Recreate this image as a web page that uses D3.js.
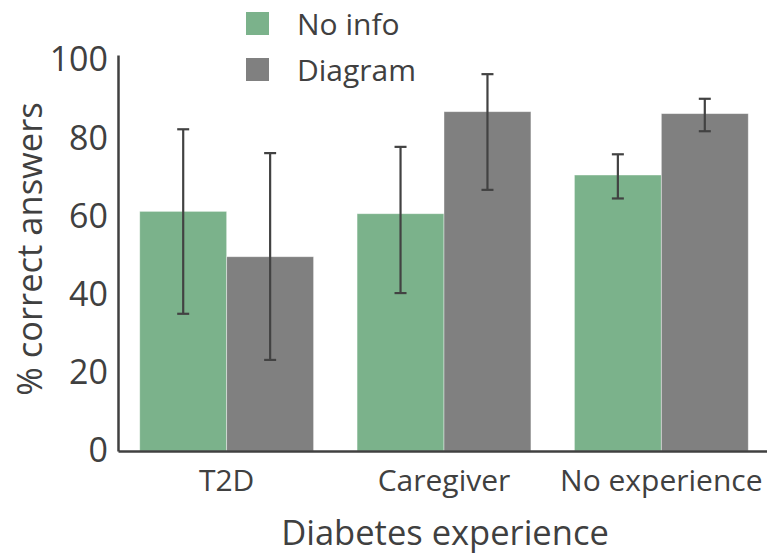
<!DOCTYPE html>
<html lang="en">
<head>
    <meta charset="UTF-8">
    <title>Diabetes experience</title>
    <script src="https://cdn.jsdelivr.net/npm/d3@7"></script>
    <style>
        body { margin: 0; background: #fff; }
        text { font-family: "Open Sans", sans-serif; fill: #404040; }
    </style>
</head>
<body>
<script>
	// data
	var categories = ["T2D", "Caregiver", "No experience"];
	var seriesNames = ["No info", "Diagram"];
	var noInfo = [61.3, 60.7, 70.6];
	var diagram = [49.7, 86.8, 86.3];
	var noInfoLow = [35.1, 40.4, 64.6];
	var noInfoHigh = [82.3, 77.8, 75.9];
	var diagramLow = [23.3, 66.8, 81.8];
	var diagramHigh = [76.2, 96.4, 90.1];
	var yTicks = [0, 20, 40, 60, 80, 100];
	var colors = ["#7bb28b", "#808080"];

	var width = 767, height = 555;
	var svg = d3.select("body").append("svg").attr("width", width).attr("height", height);

	var x = d3.scaleBand().domain(categories).range([118, 770]).paddingInner(0.2).paddingOuter(0.1);
	var xSub = d3.scaleBand().domain(seriesNames).range([0, x.bandwidth()]);
	var y = d3.scaleLinear().domain([0, 101.3]).range([451, 55]);

	// rows for drawing
	var rows = [];
	categories.forEach(function (c, i) {
		rows.push({cat: c, s: "No info", v: noInfo[i], lo: noInfoLow[i], hi: noInfoHigh[i], k: 0});
		rows.push({cat: c, s: "Diagram", v: diagram[i], lo: diagramLow[i], hi: diagramHigh[i], k: 1});
	});

	// bars
	svg.append("g").selectAll("rect").data(rows).enter().append("rect")
		.attr("x", function (d) { return x(d.cat) + xSub(d.s); })
		.attr("y", function (d) { return y(d.v); })
		.attr("width", xSub.bandwidth())
		.attr("height", function (d) { return y(0) - y(d.v); })
		.attr("fill", function (d) { return colors[d.k]; })
		.attr("stroke", "#fff")
		.attr("stroke-opacity", 0.5)
		.attr("stroke-width", 0.8);

	// error bars
	var eb = svg.append("g").attr("stroke", "#424242").attr("stroke-width", 2.2);
	rows.forEach(function (d) {
		var cx = x(d.cat) + xSub(d.s) + xSub.bandwidth() / 2;
		eb.append("line").attr("x1", cx).attr("x2", cx).attr("y1", y(d.lo)).attr("y2", y(d.hi));
		eb.append("line").attr("x1", cx - 6).attr("x2", cx + 6).attr("y1", y(d.lo)).attr("y2", y(d.lo));
		eb.append("line").attr("x1", cx - 6).attr("x2", cx + 6).attr("y1", y(d.hi)).attr("y2", y(d.hi));
	});

	// axes
	var yAxis = svg.append("g").attr("transform", "translate(118,0)")
		.call(d3.axisLeft(y).tickValues(yTicks).tickSize(0).tickPadding(10));
	yAxis.select(".domain").attr("stroke", "#404040").attr("stroke-width", 2.5);
	yAxis.selectAll("text").style("font-size", "34px").attr("fill", "#404040");

	var xAxis = svg.append("g").attr("transform", "translate(0,451)")
		.call(d3.axisBottom(x).tickSize(0).tickPadding(19));
	xAxis.select(".domain").attr("stroke", "#404040").attr("stroke-width", 2.5);
	xAxis.selectAll("text").style("font-size", "30px").attr("fill", "#404040");

	// axis labels
	svg.append("text").attr("x", 445).attr("y", 545).attr("text-anchor", "middle")
		.style("font-size", "34.5px").text("Diabetes experience");
	svg.append("text").attr("transform", "translate(42,249) rotate(-90)").attr("text-anchor", "middle")
		.style("font-size", "34.5px").text("% correct answers");

	// legend
	var lg = svg.append("g").selectAll("g").data(seriesNames).enter().append("g")
		.attr("transform", function (d, i) { return "translate(246," + (12 + i * 46) + ")"; });
	lg.append("rect").attr("width", 23).attr("height", 23)
		.attr("fill", function (d, i) { return colors[i]; });
	lg.append("text").attr("x", 51).attr("y", 23).style("font-size", "30px").text(function (d) { return d; });
</script>
</body>
</html>
